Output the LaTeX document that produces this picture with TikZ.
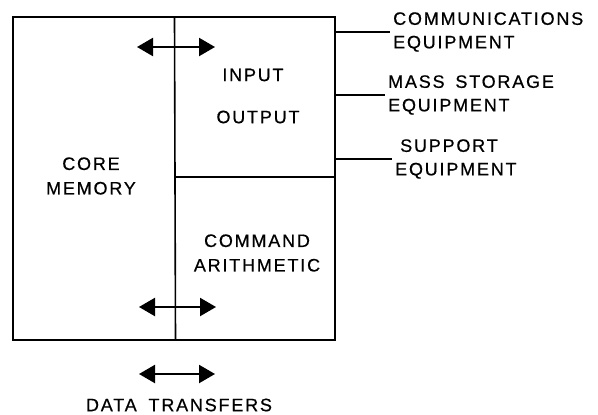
\documentclass[tikz,border=0pt]{standalone}
\usepackage{fontspec}
\setmainfont{Liberation Sans}[LetterSpace=10, FakeBold=0.6]
\usetikzlibrary{arrows.meta, positioning}

\tikzset{
  unit/.style={font=\fontsize{18}{24.5}\selectfont, align=center, inner sep=0pt},
  device/.style={font=\fontsize{18}{23.5}\selectfont, align=left, anchor=west, inner sep=3pt},
  feed/.style={line width=1.4pt},
  transfer/.style={line width=2.2pt, {Triangle[length=16pt,width=18pt]}-{Triangle[length=16pt,width=18pt]}}
}

\begin{document}
\begin{tikzpicture}[x=1pt, y=-1pt, line join=miter]
  \useasboundingbox (0,0) rectangle (598,415);

  % Main frame
  \draw[line width=1.8pt] (13,17) rectangle (335,340);
  \draw[line width=1.6pt] (174.5,17) -- (175.5,340);
  \draw[line width=1.6pt] (175,177) -- (335,177);

  % Units inside the frame
  \node[unit] (core) at (91,176) {CORE\\MEMORY};
  \node[unit] (in)   at (253,75) {INPUT};
  \node[unit] (out)  at (258,117) {OUTPUT};
  \node[unit] (cmd)  at (257,253) {COMMAND\\ARITHMETIC};

  % Peripheral equipment
  \node[device] (comm)  at (390,32) {COMMUNICATIONS\\EQUIPMENT};
  \node[device] (mass)  at (385,95) {MASS\hspace{4pt} STORAGE\\EQUIPMENT};
  \node[device] (supp)  at (392,159) {\hspace{5pt}SUPPORT\\EQUIPMENT};

  \coordinate (c1) at (335,32);
  \coordinate (c2) at (335,95);
  \coordinate (c3) at (335,159);
  \draw[feed] (c1) -- (comm.west);
  \draw[feed] (c2) -- (mass.west);
  \draw[feed] (c3) -- (supp.west);

  % Transfer arrows
  \coordinate (t1a) at (137,47);  \coordinate (t1b) at (215,47);
  \coordinate (t2a) at (139,307); \coordinate (t2b) at (216,307);
  \coordinate (t3a) at (139,374); \coordinate (t3b) at (215,374);
  \draw[transfer] (t1a) -- (t1b);
  \draw[transfer] (t2a) -- (t2b);
  \draw[transfer] (t3a) -- (t3b);

  \node[unit] (data) at (179,405) {DATA\hspace{5pt} TRANSFERS};
\end{tikzpicture}
\end{document}
